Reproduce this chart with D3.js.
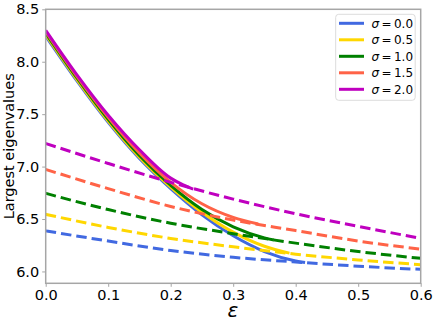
<!DOCTYPE html>
<html><head><meta charset="utf-8">
<script src="https://cdn.jsdelivr.net/npm/d3@7"></script>
<style>body{margin:0;background:#fff}svg{display:block}text{font-family:"DejaVu Sans",sans-serif}</style>
</head><body>
<script>
const sigmas = ["0.0","0.5","1.0","1.5","2.0"];
const colors = ["#4169E1","#FFD700","#008000","#FF6347","#BF00BF"];
const xTicks = [0.0,0.1,0.2,0.3,0.4,0.5,0.6];
const yTicks = [6.0,6.5,7.0,7.5,8.0,8.5];

// dashed branches
const dashEps = [0,0.1,0.2,0.3,0.4,0.5,0.6];
const dash0 = [6.387,6.29,6.20,6.135,6.09,6.05,6.02];
const dash05 = [6.545,6.42,6.315,6.235,6.165,6.11,6.065];
const dash10 = [6.745,6.59,6.46,6.36,6.27,6.19,6.125];
const dash15 = [6.973,6.79,6.62,6.49,6.39,6.29,6.213];
const dash20 = [7.22,7.03,6.85,6.69,6.55,6.43,6.315];

// solid branches
const solidEps0 = [0,0.05,0.1,0.15,0.2,0.25,0.3,0.35,0.4,0.415];
const solid0 = [8.245,7.817,7.422,7.077,6.79,6.54,6.34,6.19,6.10,6.085];
const solidEps05 = [0,0.05,0.1,0.15,0.2,0.25,0.3,0.35,0.39];
const solid05 = [8.259,7.83,7.435,7.09,6.805,6.565,6.375,6.24,6.175];
const solidEps10 = [0,0.05,0.1,0.15,0.2,0.25,0.3,0.35,0.365];
const solid10 = [8.273,7.845,7.45,7.105,6.82,6.59,6.425,6.32,6.30];
const solidEps15 = [0,0.05,0.1,0.15,0.2,0.25,0.3,0.34];
const solid15 = [8.287,7.86,7.47,7.13,6.85,6.645,6.515,6.452];
const solidEps20 = [0,0.05,0.1,0.15,0.2,0.22,0.236];
const solid20 = [8.30,7.875,7.49,7.16,6.89,6.825,6.785];

const dashes = [dash0,dash05,dash10,dash15,dash20];
const solids = [[solidEps0,solid0],[solidEps05,solid05],[solidEps10,solid10],[solidEps15,solid15],[solidEps20,solid20]];

const W=436,H=326;
const L=45.7,R=420.7,T=9.3,B=283.3;
const x=d3.scaleLinear().domain([0,0.6]).range([L,R]);
const y=d3.scaleLinear().domain([5.887,8.5]).range([B,T]);

const svg=d3.select("body").append("svg").attr("width",W).attr("height",H);
svg.append("defs").append("clipPath").attr("id","c").append("rect")
  .attr("x",L).attr("y",T).attr("width",R-L).attr("height",B-T);

const line=d3.line().x(d=>x(d[0])).y(d=>y(d[1])).curve(d3.curveMonotoneX);
const g=svg.append("g").attr("clip-path","url(#c)");
for(let i=0;i<5;i++){
  const [es,vs]=solids[i];
  g.append("path").datum(es.map((e,j)=>[e,vs[j]])).attr("d",line)
    .attr("fill","none").attr("stroke",colors[i]).attr("stroke-width",3);
  g.append("path").datum(dashEps.map((e,j)=>[e,dashes[i][j]])).attr("d",line)
    .attr("fill","none").attr("stroke",colors[i]).attr("stroke-width",3)
    .attr("stroke-dasharray","10.5,5");
}

const gray="#a6a6a6";
const xa=svg.append("g").attr("transform",`translate(0,${B})`)
  .call(d3.axisBottom(x).tickValues(xTicks).tickFormat(d3.format(".1f")).tickSizeOuter(0).tickSize(3.5).tickPadding(3));
const ya=svg.append("g").attr("transform",`translate(${L},0)`)
  .call(d3.axisLeft(y).tickValues(yTicks).tickFormat(d3.format(".1f")).tickSizeOuter(0).tickSize(3.5).tickPadding(3));
[xa,ya].forEach(a=>{
  a.select(".domain").remove();
  a.selectAll("line").attr("stroke",gray);
  a.selectAll("text").attr("fill","#000").style("font-size","14.5px").style("font-family","DejaVu Sans");
});
svg.append("rect").attr("x",L).attr("y",T).attr("width",R-L).attr("height",B-T)
  .attr("fill","none").attr("stroke",gray).attr("stroke-width",1.5);

svg.append("text").attr("transform",`translate(14,${(T+B)/2}) rotate(-90)`)
  .attr("text-anchor","middle").style("font-size","14.5px").text("Largest eigenvalues");
svg.append("text").attr("x",233).attr("y",317).attr("text-anchor","middle")
  .style("font-size","20px").style("font-style","italic").text("ε");

// legend
const lg=svg.append("g");
lg.append("rect").attr("x",335.7).attr("y",14.3).attr("width",79.5).attr("height",86)
  .attr("rx",3).attr("fill","#fff").attr("fill-opacity",0.8).attr("stroke","#dcdcdc");
sigmas.forEach((s,i)=>{
  const yy=23.3+i*16.5;
  lg.append("line").attr("x1",339).attr("x2",364).attr("y1",yy).attr("y2",yy)
    .attr("stroke",colors[i]).attr("stroke-width",3);
  const t=lg.append("text").attr("x",371.5).attr("y",yy+4.5).style("font-size","12px");
  t.append("tspan").style("font-style","italic").text("σ");
  t.append("tspan").text("\u2009=\u2009"+s);
});
</script>
</body></html>
